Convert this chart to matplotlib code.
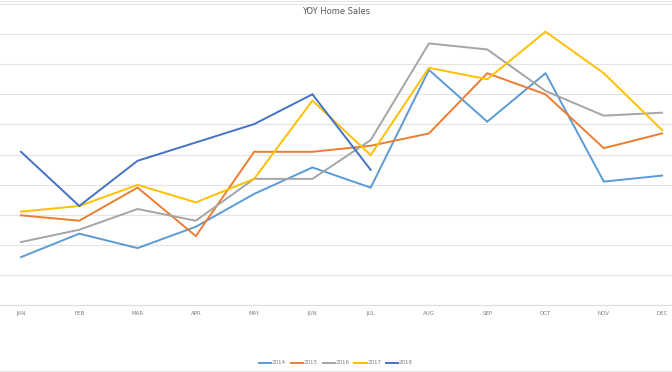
import matplotlib
matplotlib.use('Agg')
import matplotlib.pyplot as plt
from matplotlib.lines import Line2D

months = ['JAN', 'FEB', 'MAR', 'APR', 'MAY', 'JUN',
          'JUL', 'AUG', 'SEP', 'OCT', 'NOV', 'DEC']

# values (one gridline = 10 units, no axis labels shown)
sales_2014 = [15.9, 23.7, 18.9, 26.0, 36.9, 45.7, 39.0, 78.1, 60.9, 77.0, 41.0, 43.0]
sales_2015 = [29.8, 28.0, 39.0, 22.9, 50.9, 50.9, 52.9, 57.0, 77.0, 70.0, 52.1, 57.0]
sales_2016 = [20.9, 25.0, 31.9, 28.0, 41.9, 41.9, 54.8, 86.9, 84.9, 71.1, 62.9, 63.9]
sales_2017 = [31.0, 32.9, 39.9, 34.1, 41.9, 67.9, 49.8, 78.8, 75.0, 90.8, 77.0, 58.1]
sales_2018 = [50.9, 32.9, 47.9, 54.0, 60.1, 70.0, 44.9]

series = [('2014', sales_2014, '#5B9BD5'),
          ('2015', sales_2015, '#ED7D31'),
          ('2016', sales_2016, '#A5A5A5'),
          ('2017', sales_2017, '#FFC000'),
          ('2018', sales_2018, '#4472C4')]

plt.rcParams['font.family'] = ['DejaVu Sans']

fig = plt.figure(figsize=(6.72, 3.72), dpi=100)
# plot area spans the full width; bottom axis at y=305px, top gridline at ~4px
ax = fig.add_axes([0, 67 / 372, 1, 301 / 372])

for name, vals, col in series:
    ax.plot(range(len(vals)), vals, color=col, lw=1.4, label=name,
            solid_joinstyle='miter')

ax.set_xlim(-0.36, 11.17)
ax.set_ylim(0, 100)
ax.set_yticks(range(0, 101, 10))
ax.yaxis.grid(True, color='#E3E3E3', lw=0.8)
ax.set_axisbelow(True)
ax.tick_params(axis='y', left=False, labelleft=False)
ax.set_xticks(range(12))
ax.set_xticklabels(months, fontsize=4, color='#7F7F7F')
ax.tick_params(axis='x', length=0, pad=4)
for s in ['top', 'left', 'right']:
    ax.spines[s].set_visible(False)
ax.spines['bottom'].set_color('#DDDDDD')
ax.spines['bottom'].set_linewidth(0.8)

fig.text(0.5, 1 - 11 / 372, 'YOY Home Sales', ha='center', va='center',
         fontsize=6, color='#595959')

handles = [Line2D([], [], color=c, lw=1.4) for _, _, c in series]
fig.legend(handles, [n for n, _, _ in series], loc='center',
           bbox_to_anchor=(0.5, 1 - 363 / 372), ncol=5, frameon=False,
           fontsize=4, handlelength=2.2, handletextpad=0.1, columnspacing=0.9,
           labelcolor='#7F7F7F')

# thin border lines of the chart frame at the top and bottom edges
fig.add_artist(Line2D([0, 1], [0.998, 0.998], color='#E3E3E3', lw=0.8))
fig.add_artist(Line2D([0, 1], [0.003, 0.003], color='#E3E3E3', lw=0.8))

fig.savefig('out.png', dpi=100)
